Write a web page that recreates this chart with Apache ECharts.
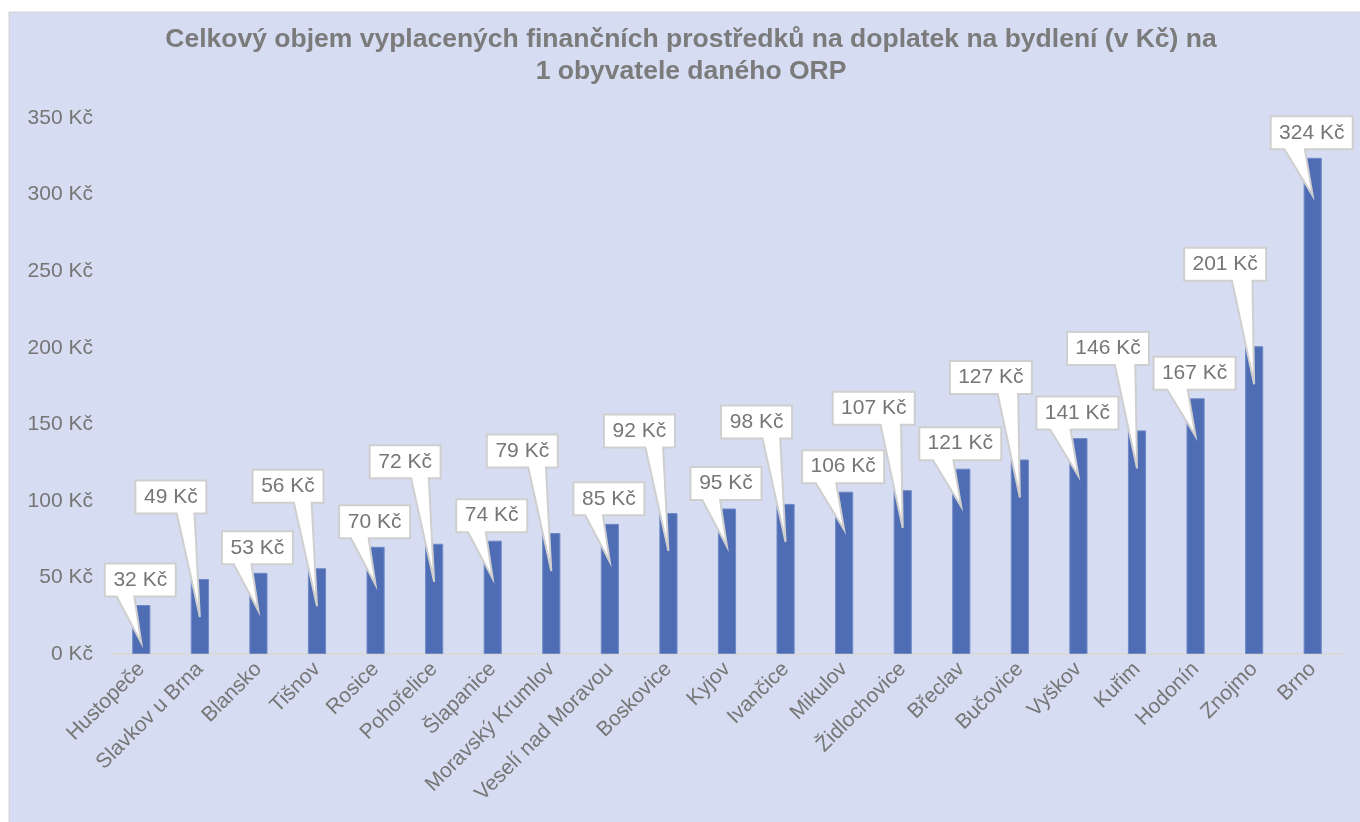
<!DOCTYPE html>
<html>
<head>
<meta charset="utf-8">
<script src="https://cdn.jsdelivr.net/npm/echarts@6/dist/echarts.min.js"></script>
<style>
  html, body { margin: 0; padding: 0; background: #ffffff; }
  #chart { width: 1360px; height: 822px; }
</style>
</head>
<body>
<div id="chart"></div>
<script>
// ORP names and amount per inhabitant (Kč)
const cities = ['Hustopeče', 'Slavkov u Brna', 'Blansko', 'Tišnov', 'Rosice', 'Pohořelice', 'Šlapanice',
  'Moravský Krumlov', 'Veselí nad Moravou', 'Boskovice', 'Kyjov', 'Ivančice', 'Mikulov', 'Židlochovice',
  'Břeclav', 'Bučovice', 'Vyškov', 'Kuřim', 'Hodonín', 'Znojmo', 'Brno'];
const amounts = [32, 49, 53, 56, 70, 72, 74, 79, 85, 92, 95, 98, 106, 107, 121, 127, 141, 146, 167, 201, 324];
const yTicks = [0, 50, 100, 150, 200, 250, 300, 350];

const FONT = 'Arial, "Liberation Sans", sans-serif';
const GREY = '#767676';

const measure = document.createElement('canvas').getContext('2d');
measure.font = '21px ' + FONT;

const chart = echarts.init(document.getElementById('chart'));

// excel-like wedge callout, drawn from the bar's own coordinates
function callout(params, api) {
  const i = api.value(0);
  const v = api.value(1);
  const top = api.coord([i, v]);
  const txt = v + ' Kč';
  const w = Math.round(measure.measureText(txt).width) + 17;
  const h = 33;
  const odd = params.dataIndex % 2 === 1;
  const cx = top[0] + (odd ? -29 : -1);
  const cy = top[1] - (odd ? 82 : 25);
  const tip = [top[0], top[1] + 38];
  const x0 = cx - w / 2, x1 = cx + w / 2, y0 = cy - h / 2, y1 = cy + h / 2;
  const right = tip[0] > cx + 2;
  const b1 = x0 + w * (right ? 7 : 2) / 12;
  const b2 = x0 + w * (right ? 10 : 5) / 12;
  return {
    type: 'group',
    children: [{
      type: 'polygon',
      shape: { points: [[x0, y0], [x1, y0], [x1, y1], [b2, y1], tip, [b1, y1], [x0, y1]] },
      style: { fill: '#ffffff', stroke: '#cfcfcf', lineWidth: 2 }
    }, {
      type: 'text',
      x: cx, y: cy,
      style: { text: txt, fill: GREY, font: '21px ' + FONT, align: 'center', verticalAlign: 'middle' }
    }]
  };
}

const option = {
  animation: false,
  backgroundColor: '#ffffff',
  graphic: [{
    type: 'rect', z: -10,
    shape: { x: 9, y: 12, width: 1360, height: 820 },
    style: { fill: '#d6dcf1', stroke: '#d3d3d3', lineWidth: 1 }
  }, {
    type: 'text', x: 691, y: 24, z: 10,
    style: {
      text: 'Celkový objem vyplacených finančních prostředků na doplatek na bydlení (v Kč) na\n1 obyvatele daného ORP',
      fill: '#7b7b7b', font: 'bold 26.5px ' + FONT, align: 'center', lineHeight: 32
    }
  }],
  grid: { left: 112, right: 18, top: 118, bottom: 168 },
  xAxis: {
    type: 'category',
    data: cities,
    axisLine: { lineStyle: { color: '#d9d9d9', width: 2 } },
    axisTick: { show: false },
    axisLabel: { rotate: 45, interval: 0, margin: 12, color: GREY, fontSize: 21, fontFamily: FONT }
  },
  yAxis: {
    type: 'value',
    min: yTicks[0], max: yTicks[yTicks.length - 1], interval: 50,
    splitLine: { show: false },
    axisLine: { show: false },
    axisTick: { show: false },
    axisLabel: { margin: 19, color: GREY, fontSize: 21, fontFamily: FONT, formatter: v => v + ' Kč' }
  },
  series: [{
    type: 'bar',
    data: amounts,
    barWidth: '31%',
    itemStyle: { color: '#4f6db4', borderColor: '#6f89c6', borderWidth: 1 }
  }, {
    type: 'custom',
    coordinateSystem: 'cartesian2d',
    data: amounts.map((v, i) => [i, v]),
    encode: { x: 0, y: 1 },
    renderItem: callout,
    clip: false,
    z: 5
  }]
};

chart.setOption(option);
</script>
</body>
</html>
